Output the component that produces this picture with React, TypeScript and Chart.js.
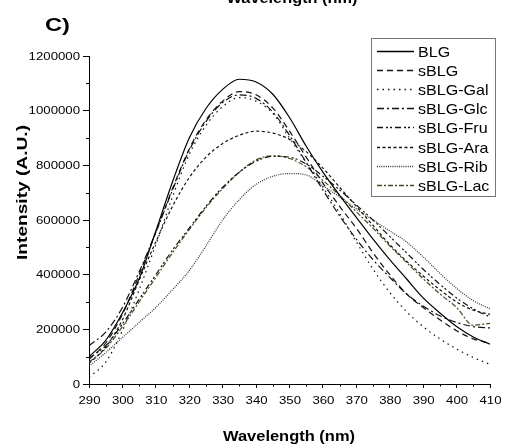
import React, { useEffect, useRef } from "react";
import { Chart, registerables } from "chart.js";

Chart.register(...registerables);

const wavelengths = [290, 295, 300, 305, 310, 315, 320, 325, 330, 335, 340, 345, 350, 355, 360, 365, 370, 375, 380, 385, 390, 395, 400, 405, 410];

const BLG = [100000, 160000, 260000, 385000, 560000, 740000, 900000, 1008000, 1078000, 1115000, 1105000, 1060000, 975000, 870000, 775000, 690000, 610000, 530000, 455000, 385000, 315000, 260000, 210000, 172000, 146000];
const sBLG = [90000, 150000, 255000, 400000, 555000, 715000, 860000, 966000, 1035000, 1070000, 1058000, 1010000, 925000, 830000, 735000, 650000, 570000, 480000, 400000, 330000, 280000, 235000, 195000, 165000, 148000];
const sBLGGal = [25000, 80000, 195000, 345000, 510000, 685000, 840000, 946000, 1015000, 1048000, 1035000, 990000, 900000, 810000, 720000, 625000, 520000, 420000, 335000, 265000, 210000, 165000, 128000, 97000, 72000];
const sBLGGlc = [140000, 190000, 280000, 410000, 555000, 710000, 855000, 960000, 1030000, 1058000, 1045000, 995000, 910000, 810000, 710000, 615000, 530000, 455000, 390000, 330000, 285000, 250000, 225000, 210000, 205000];
const sBLGFru = [95000, 140000, 220000, 310000, 400000, 490000, 570000, 650000, 720000, 775000, 815000, 833000, 830000, 805000, 760000, 710000, 655000, 600000, 540000, 480000, 420000, 365000, 315000, 275000, 245000];
const sBLGAra = [75000, 135000, 235000, 380000, 520000, 650000, 755000, 830000, 880000, 910000, 925000, 918000, 895000, 850000, 790000, 720000, 650000, 580000, 510000, 450000, 395000, 345000, 300000, 270000, 255000];
const sBLGRib = [65000, 115000, 170000, 225000, 280000, 345000, 415000, 505000, 600000, 675000, 730000, 760000, 770000, 765000, 725000, 685000, 640000, 600000, 560000, 520000, 465000, 405000, 350000, 305000, 275000];
const sBLGLac = [80000, 130000, 210000, 300000, 390000, 480000, 565000, 645000, 715000, 775000, 820000, 835000, 825000, 795000, 745000, 690000, 630000, 570000, 505000, 445000, 385000, 330000, 280000, 215000, 222000];

const seriesNames = ["BLG", "sBLG", "sBLG-Gal", "sBLG-Glc", "sBLG-Fru", "sBLG-Ara", "sBLG-Rib", "sBLG-Lac"];
const seriesValues = [BLG, sBLG, sBLGGal, sBLGGlc, sBLGFru, sBLGAra, sBLGRib, sBLGLac];
const seriesDash: number[][] = [[], [6, 4], [1.5, 4], [7, 3, 2, 3], [6, 3, 2, 2, 2, 3], [3, 2.5], [1, 1.2], [5, 2, 2, 2]];
const seriesColors = ["#000000", "#111111", "#111111", "#111111", "#111111", "#111111", "#333333", "#4a4a22"];

const xTicks = { min: 290, max: 410, step: 10 };
const yTicks = { min: 0, max: 1200000, step: 200000 };

const panelLabel = "C)";
const xTitle = "Wavelength (nm)";
const yTitle = "Intensity (A.U.)";

const FONT = "Arial, 'Liberation Sans', Helvetica, sans-serif";

function stretchedText(ctx: CanvasRenderingContext2D, text: string, x: number, baseline: number, sx: number, align: CanvasTextAlign) {
  ctx.save();
  ctx.translate(x, baseline);
  ctx.scale(sx, 1);
  ctx.textAlign = align;
  ctx.fillText(text, 0, 0);
  ctx.restore();
}

function fitText(ctx: CanvasRenderingContext2D, text: string, cx: number, baseline: number, width: number) {
  const w = ctx.measureText(text).width;
  stretchedText(ctx, text, cx, baseline, width / w, "center");
}

const decorPlugin = {
  id: "decor",
  afterDraw(chart: any) {
    const ctx: CanvasRenderingContext2D = chart.ctx;
    const xs = chart.scales.x;
    const ys = chart.scales.y;
    ctx.save();
    // minor ticks
    ctx.strokeStyle = "#000";
    ctx.lineWidth = 1;
    ctx.setLineDash([]);
    ctx.beginPath();
    for (let v = xTicks.min + xTicks.step / 2; v < xTicks.max; v += xTicks.step) {
      const px = Math.round(xs.getPixelForValue(v)) + 0.5;
      ctx.moveTo(px, ys.bottom);
      ctx.lineTo(px, ys.bottom + 2.5);
    }
    for (let v = yTicks.min + yTicks.step / 2; v < yTicks.max; v += yTicks.step) {
      const py = Math.round(ys.getPixelForValue(v)) + 0.5;
      ctx.moveTo(xs.left, py);
      ctx.lineTo(xs.left - 3, py);
    }
    ctx.stroke();

    // tick labels (from the library's tick lists)
    ctx.fillStyle = "#000";
    ctx.font = `11px ${FONT}`;
    ctx.textBaseline = "middle";
    ys.ticks.forEach((t: any) => {
      const py = ys.getPixelForValue(t.value);
      stretchedText(ctx, String(t.value), 80, py + 0.5, 1.2, "right");
    });
    xs.ticks.forEach((t: any) => {
      const px = xs.getPixelForValue(t.value);
      stretchedText(ctx, String(t.value), px + 0.5, 400.5, 1.2, "center");
    });

    // titles
    ctx.textBaseline = "alphabetic";
    ctx.font = `bold 14px ${FONT}`;
    fitText(ctx, xTitle, 292, 3, 131);
    fitText(ctx, xTitle, 289, 441, 132);
    ctx.font = `bold 19px ${FONT}`;
    fitText(ctx, panelLabel, 57.5, 31, 25);
    ctx.save();
    ctx.translate(27, 0);
    ctx.rotate(-Math.PI / 2);
    ctx.font = `bold 14px ${FONT}`;
    fitText(ctx, yTitle, -192.5, 0, 135);
    ctx.restore();

    // legend
    const bx = 371, by = 38, bw = 124, bh = 158;
    ctx.strokeStyle = "#777";
    ctx.lineWidth = 1;
    ctx.strokeRect(bx + 0.5, by + 0.5, bw, bh);
    ctx.font = `15px ${FONT}`;
    ctx.textBaseline = "middle";
    for (let i = 0; i < seriesNames.length; i++) {
      const cy = Math.round(51 + 19.1 * i) + 0.5;
      ctx.strokeStyle = seriesColors[i];
      ctx.lineWidth = 1.3;
      ctx.setLineDash(seriesDash[i]);
      ctx.beginPath();
      ctx.moveTo(377, cy);
      ctx.lineTo(414, cy);
      ctx.stroke();
      ctx.setLineDash([]);
      ctx.fillStyle = "#000";
      stretchedText(ctx, seriesNames[i], 418, cy + 1, 1.07, "left");
    }
    ctx.restore();
  },
};

export default function App() {
  const ref = useRef<HTMLCanvasElement | null>(null);
  useEffect(() => {
    if (!ref.current) return;
    const datasets = seriesNames.map((name, i) => ({
      label: name,
      data: seriesValues[i].map((v, j) => ({ x: wavelengths[j], y: v })),
      borderColor: seriesColors[i],
      borderWidth: 1.2,
      borderDash: seriesDash[i],
      pointRadius: 0,
      fill: false,
      tension: 0.4,
      cubicInterpolationMode: "monotone" as const,
    }));
    const chart = new Chart(ref.current, {
      type: "line",
      data: { datasets },
      options: {
        animation: false,
        responsive: false,
        devicePixelRatio: 1,
        layout: { padding: { left: 0, top: 56, right: 15, bottom: 0 } },
        plugins: { legend: { display: false }, tooltip: { enabled: false }, title: { display: false } },
        scales: {
          x: {
            type: "linear",
            min: xTicks.min,
            max: xTicks.max,
            afterFit: (s: any) => { s.height = 448 - 384; },
            ticks: { stepSize: xTicks.step, display: false, maxRotation: 0, autoSkip: false },
            grid: { display: true, drawOnChartArea: false, drawTicks: true, tickLength: 4, color: "#000" },
            border: { display: true, color: "#000", width: 1 },
          },
          y: {
            type: "linear",
            min: yTicks.min,
            max: yTicks.max,
            afterFit: (s: any) => { s.width = 89; },
            ticks: { stepSize: yTicks.step, display: false },
            grid: { display: true, drawOnChartArea: false, drawTicks: true, tickLength: 6, color: "#000" },
            border: { display: true, color: "#000", width: 1 },
          },
        },
      },
      plugins: [decorPlugin],
    });
    return () => chart.destroy();
  }, []);
  return (
    <div style={{ position: "absolute", left: 0, top: 0, width: 505, height: 448, background: "#fff" }}>
      <canvas ref={ref} width={505} height={448} style={{ display: "block" }} />
    </div>
  );
}
